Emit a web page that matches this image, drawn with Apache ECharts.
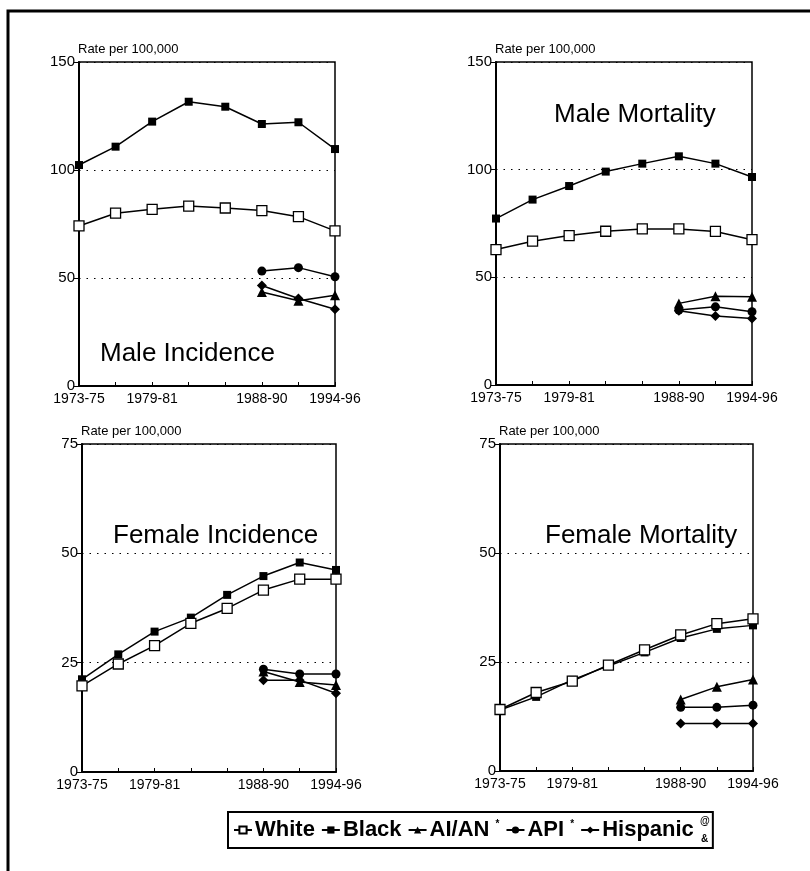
<!DOCTYPE html>
<html>
<head>
<meta charset="utf-8">
<script src="https://cdn.jsdelivr.net/npm/echarts@6/dist/echarts.min.js"></script>
<style>
html,body{margin:0;padding:0;background:#fff;}
#chart{width:810px;height:871px;}
</style>
</head>
<body>
<div id="chart"></div>
<script>
var categories = ['1973-75','1976-78','1979-81','1982-84','1985-87','1988-90','1991-93','1994-96'];
var shownLabels = ['1973-75','1979-81','1988-90','1994-96'];
var maleTicks = [0, 50, 100, 150];
var femaleTicks = [0, 25, 50, 75];
var seriesNames = ['White','Black','AI/AN','API','Hispanic'];
var panelTitles = ['Male Incidence','Male Mortality','Female Incidence','Female Mortality'];

// Male Incidence
var miWhite = [74.1, 80.0, 81.8, 83.3, 82.4, 81.2, 78.4, 71.8];
var miBlack = [102.3, 110.8, 122.4, 131.6, 129.3, 121.3, 122.1, 109.7];
var miAIAN = ['-', '-', '-', '-', '-', 43.5, 39.5, 42.0];
var miAPI = ['-', '-', '-', '-', '-', 53.2, 54.8, 50.6];
var miHisp = ['-', '-', '-', '-', '-', 46.5, 40.5, 35.5];

// Male Mortality
var mmWhite = [62.9, 66.8, 69.4, 71.4, 72.5, 72.5, 71.3, 67.5];
var mmBlack = [77.3, 86.1, 92.4, 99.1, 102.8, 106.2, 102.8, 96.6];
var mmAIAN = ['-', '-', '-', '-', '-', 37.9, 41.2, 41.0];
var mmAPI = ['-', '-', '-', '-', '-', 34.8, 36.3, 34.0];
var mmHisp = ['-', '-', '-', '-', '-', 34.5, 32.0, 30.9];

// Female Incidence
var fiWhite = [19.7, 24.7, 28.9, 34.0, 37.4, 41.6, 44.1, 44.1];
var fiBlack = [21.2, 26.9, 32.1, 35.3, 40.5, 44.8, 47.9, 46.2];
var fiAIAN = ['-', '-', '-', '-', '-', 23.0, 20.6, 19.9];
var fiAPI = ['-', '-', '-', '-', '-', 23.5, 22.4, 22.4];
var fiHisp = ['-', '-', '-', '-', '-', 21.0, 21.0, 18.0];

// Female Mortality
var fmWhite = [14.1, 18.0, 20.6, 24.3, 27.8, 31.2, 33.8, 34.9];
var fmBlack = [14.0, 17.0, 20.9, 24.1, 27.2, 30.5, 32.6, 33.4];
var fmAIAN = ['-', '-', '-', '-', '-', 16.4, 19.3, 21.0];
var fmAPI = ['-', '-', '-', '-', '-', 14.6, 14.6, 15.1];
var fmHisp = ['-', '-', '-', '-', '-', 10.9, 10.9, 10.9];

var panelData = [
  [miWhite, miBlack, miAIAN, miAPI, miHisp],
  [mmWhite, mmBlack, mmAIAN, mmAPI, mmHisp],
  [fiWhite, fiBlack, fiAIAN, fiAPI, fiHisp],
  [fmWhite, fmBlack, fmAIAN, fmAPI, fmHisp]
];
var panelMax = [150, 150, 75, 75];
var panelInterval = [50, 50, 25, 25];

var FONT = 'Liberation Sans, Arial, Helvetica, sans-serif';
var grids = [
  {left: 79, top: 62, width: 256, height: 324},
  {left: 496, top: 62, width: 256, height: 323},
  {left: 82, top: 444, width: 254, height: 328},
  {left: 500, top: 444, width: 253, height: 327}
];
var titlePos = [
  {x: 100, y: 355},
  {x: 554, y: 116},
  {x: 113, y: 537},
  {x: 545, y: 537}
];
var symbols = ['rect', 'rect', 'triangle', 'circle', 'diamond'];
var symbolSizes = [10, 8, 10, 9, 10];

var gridOpts = [], xAxes = [], yAxes = [], series = [], graphics = [];

grids.forEach(function (g, i) {
  gridOpts.push({left: g.left, top: g.top, width: g.width, height: g.height,
    show: true, borderColor: '#000', borderWidth: 1.5, backgroundColor: 'transparent'});
  xAxes.push({
    type: 'category', gridIndex: i, data: categories, boundaryGap: false,
    axisLine: {lineStyle: {color: '#000', width: 2}},
    axisTick: {inside: true, length: 4, interval: 0, lineStyle: {color: '#000', width: 1}},
    axisLabel: {
      interval: 0, color: '#000', fontFamily: FONT, fontSize: 14, margin: 6,
      formatter: function (v) { return shownLabels.indexOf(v) >= 0 ? v : ''; }
    },
    splitLine: {show: false}
  });
  yAxes.push({
    type: 'value', gridIndex: i, min: 0, max: panelMax[i], interval: panelInterval[i],
    axisLine: {show: true, lineStyle: {color: '#000', width: 2}},
    axisTick: {show: true, length: 5, lineStyle: {color: '#000', width: 1}},
    axisLabel: {color: '#000', fontFamily: FONT, fontSize: 15, margin: 4},
    splitLine: {show: true, lineStyle: {color: '#000', width: 1, type: [1.5, 6]}}
  });
  panelData[i].forEach(function (d, k) {
    series.push({
      name: seriesNames[k], type: 'line', xAxisIndex: i, yAxisIndex: i, data: d,
      symbol: symbols[k], symbolSize: symbolSizes[k], showAllSymbol: true,
      connectNulls: false, silent: true, animation: false, z: k === 0 ? 4 : 3,
      lineStyle: {color: '#000', width: 1.5},
      itemStyle: k === 0 ? {color: '#fff', borderColor: '#000', borderWidth: 1.3}
                         : {color: '#000', borderColor: '#000', borderWidth: 0}
    });
  });
  graphics.push({
    type: 'text', left: g.left - 1, top: g.top - 19,
    style: {text: 'Rate per 100,000', fill: '#000', font: '13px ' + FONT}
  });
  graphics.push({
    type: 'text', left: titlePos[i].x, top: titlePos[i].y - 14,
    style: {text: panelTitles[i], fill: '#000', font: '26px ' + FONT}
  });
});

// outer frame
graphics.push({type: 'polyline', shape: {points: [[8, 871], [8, 11], [810, 11]]},
  style: {stroke: '#000', lineWidth: 3, fill: null}});
// stacked superscript for Hispanic
graphics.push({type: 'text', left: 700, top: 816,
  style: {text: '@', fill: '#000', font: 'bold 10px ' + FONT}});
graphics.push({type: 'text', left: 701, top: 834,
  style: {text: '&', fill: '#000', font: 'bold 10px ' + FONT}});

var option = {
  backgroundColor: '#fff',
  animation: false,
  grid: gridOpts,
  xAxis: xAxes,
  yAxis: yAxes,
  legend: {
    data: seriesNames, left: 228, top: 812, selectedMode: false,
    itemWidth: 18, itemHeight: 9, itemGap: 6,
    borderColor: '#000', borderWidth: 2, padding: [7, 19, 7, 5],
    textStyle: {
      color: '#000', fontFamily: FONT, fontWeight: 'bold', fontSize: 22, padding: [0, 0, 0, -2],
      rich: {s: {fontSize: 10, fontWeight: 'bold', verticalAlign: 'top', padding: [0, 0, 12, 0], fontFamily: FONT}}
    },
    formatter: function (n) {
      if (n === 'AI/AN' || n === 'API') return n + ' {s|*}';
      return n;
    }
  },
  series: series,
  graphic: graphics
};

var chart = echarts.init(document.getElementById('chart'), null, {renderer: 'canvas'});
chart.setOption(option);
</script>
</body>
</html>
